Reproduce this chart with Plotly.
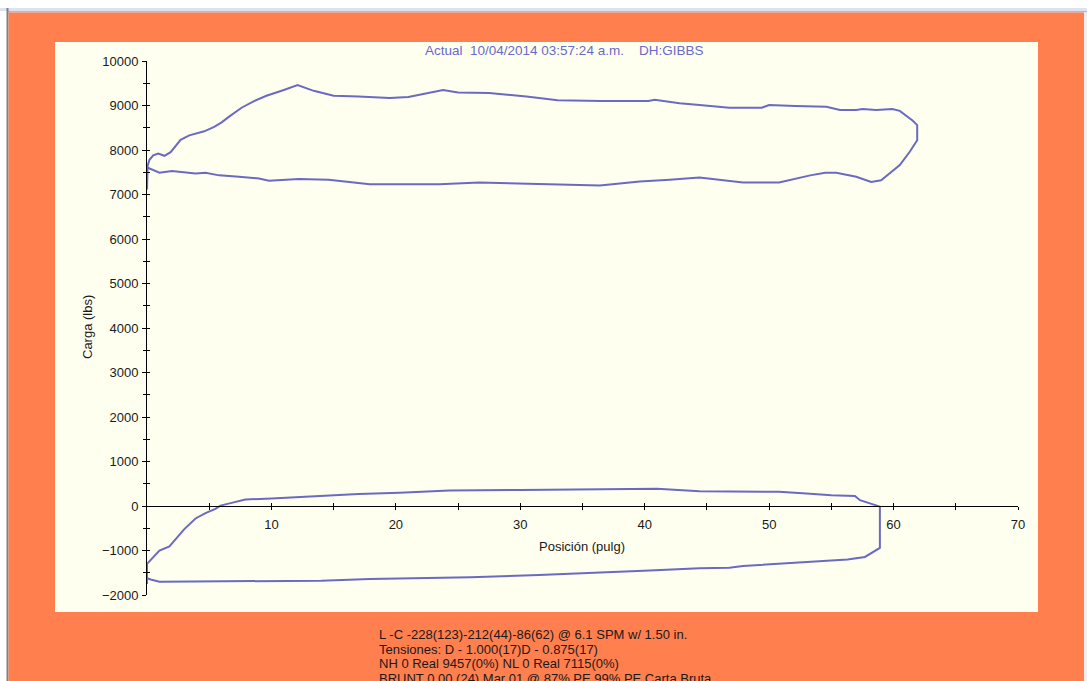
import plotly.graph_objects as go

# Surface dynamometer card (upper loop) and pump card (lower loop)
upper_pos = [0.0, 0.05, 0.2, 0.5, 0.9, 1.4, 1.9, 2.3, 2.7, 3.4, 4.6, 5.4, 6.0, 6.6, 7.6, 8.6,
             9.6, 11.0, 12.1, 13.4, 15.0, 17.0, 19.5, 21.0, 22.5, 23.8, 25.0, 27.5, 30.5,
             33.0, 36.5, 40.3, 40.8, 42.8, 44.4, 46.8, 49.4, 50.0, 52.1, 54.6, 55.7, 57.0,
             57.5, 58.6, 59.9, 60.5, 61.5, 61.9, 61.9, 61.3, 60.5, 59.7, 59.0, 58.2, 57.8,
             57.0, 55.4, 54.5, 53.3, 52.2, 50.8, 47.9, 44.4, 42.0, 39.6, 36.4, 33.5, 31.5,
             26.7, 23.5, 17.9, 14.6, 12.2, 9.8, 9.0, 7.4, 5.8, 4.7, 3.9, 2.0, 1.0, 0.15,
             0.0, 0.0]
upper_load = [7115, 7650, 7780, 7880, 7920, 7870, 7950, 8080, 8230, 8330, 8420, 8520, 8620,
              8750, 8950, 9100, 9220, 9350, 9457, 9330, 9220, 9200, 9170, 9190, 9280, 9350,
              9290, 9280, 9200, 9120, 9100, 9100, 9130, 9050, 9010, 8950, 8950, 9010, 8990,
              8970, 8900, 8900, 8920, 8900, 8920, 8880, 8670, 8560, 8220, 7960, 7660, 7470,
              7320, 7280, 7320, 7400, 7490, 7490, 7430, 7360, 7270, 7270, 7380, 7330, 7290,
              7200, 7220, 7240, 7270, 7230, 7230, 7330, 7350, 7310, 7360, 7400, 7430, 7490,
              7470, 7530, 7490, 7590, 7650, 7115]

lower_pos = [0.0, 0.7, 1.0, 1.8, 2.2, 3.0, 3.9, 4.7, 5.5, 5.9, 6.8, 7.9, 10.0, 13.8, 17.0,
             20.3, 24.3, 30.0, 38.0, 41.0, 44.4, 50.8, 53.0, 55.0, 56.9, 57.3, 58.6, 58.9,
             58.9, 58.3, 57.7, 56.3, 55.1, 53.8, 50.8, 47.9, 46.8, 44.4, 40.4, 36.4, 31.5,
             26.0, 17.9, 14.0, 1.0, 0.3, 0.0, 0.0, 0.0]
lower_load = [-1300, -1080, -1000, -910, -775, -520, -280, -160, -65, 10, 70, 145, 170, 230,
              270, 300, 350, 360, 380, 390, 330, 320, 280, 240, 225, 130, 15, -15, -940,
              -1050, -1145, -1200, -1220, -1240, -1290, -1350, -1390, -1400, -1450, -1500,
              -1550, -1600, -1640, -1680, -1700, -1650, -1620, -1750, -1300]

x_range = [0, 70]
y_range = [-2000, 10000]
x_major = [10, 20, 30, 40, 50, 60, 70]
x_minor = [5, 15, 25, 35, 45, 55, 65]

title_text = "Actual  10/04/2014 03:57:24 a.m.    DH:GIBBS"
x_title = "Posición (pulg)"
y_title = "Carga (lbs)"
footer_lines = [
    "L -C -228(123)-212(44)-86(62) @ 6.1 SPM w/ 1.50 in.",
    "Tensiones: D - 1.000(17)D - 0.875(17)",
    "NH 0 Real 9457(0%) NL 0 Real 7115(0%)",
    "BRUNT 0.00 (24) Mar 01 @ 87% PE 99% PE Carta Bruta",
]

W, H = 1087, 681
ML, MT, PW, PH = 147, 61, 871, 534
MR, MB = W - ML - PW, H - MT - PH

FONT = "Liberation Sans, Arial, sans-serif"
LINE_COLOR = "#6a6ac2"
ORANGE = "#ff7f4f"
CREAM = "#fffff0"


def px(x):
    return (x - ML) / PW


def py(y):
    return (MT + PH - y) / PH


def rect(x0, y0, x1, y1, color):
    return dict(type="rect", xref="paper", yref="paper", layer="below",
                x0=px(x0), x1=px(x1), y0=py(y1), y1=py(y0),
                fillcolor=color, line=dict(width=0))


fig = go.Figure()
fig.add_trace(go.Scatter(x=upper_pos, y=upper_load, mode="lines",
                         line=dict(color=LINE_COLOR, width=2), hoverinfo="skip"))
fig.add_trace(go.Scatter(x=lower_pos, y=lower_load, mode="lines",
                         line=dict(color=LINE_COLOR, width=2), hoverinfo="skip"))
# invisible trace so the companion axes (inner tick halves) are drawn
fig.add_trace(go.Scatter(x=[None], y=[None], xaxis="x2", yaxis="y2", showlegend=False))

zero_pos = (0 - y_range[0]) / (y_range[1] - y_range[0])
tick_font = dict(family=FONT, size=13, color="#1a1a1a")

fig.update_layout(
    width=W, height=H,
    margin=dict(l=ML, r=MR, t=MT, b=MB, pad=0),
    paper_bgcolor="white",
    plot_bgcolor="rgba(0,0,0,0)",
    showlegend=False,
    xaxis=dict(range=x_range, anchor="free", position=zero_pos, showgrid=False,
               zeroline=False, showline=True, linecolor="black", linewidth=1,
               tickmode="array", tickvals=x_major, ticks="outside", ticklen=3,
               tickcolor="black", tickfont=tick_font, ticklabelstandoff=3,
               minor=dict(tickmode="array", tickvals=x_minor, ticks="outside",
                          ticklen=3, tickcolor="black")),
    yaxis=dict(range=y_range, showgrid=False, zeroline=False, showline=True,
               linecolor="black", linewidth=1, dtick=1000, tick0=0, tickformat="d",
               ticks="outside", ticklen=4, tickcolor="black", tickfont=tick_font,
               ticklabelstandoff=1,
               minor=dict(dtick=500, ticks="outside", ticklen=3, tickcolor="black")),
    xaxis2=dict(range=x_range, overlaying="x", anchor="free", position=zero_pos,
                showgrid=False, zeroline=False, showline=False, showticklabels=False,
                tickmode="array", tickvals=x_minor + x_major, ticks="inside",
                ticklen=3, tickcolor="black"),
    yaxis2=dict(range=y_range, overlaying="y", anchor="x", showgrid=False,
                zeroline=False, showline=False, showticklabels=False, dtick=500,
                tick0=0, ticks="inside", ticklen=3, tickcolor="black"),
    shapes=[
        rect(0, 8, W, 11, "#dde1f0"),
        rect(8, 11, W, 12.5, "#b4b8c6"),
        rect(6.5, 8, 8.5, H, "#808080"),
        rect(8.5, 12.5, 1084, H, ORANGE),
        rect(1084, 12.5, W, H, "#eeeeee"),
        rect(55, 42, 1038, 612, CREAM),
    ],
)

annotations = [
    dict(text=title_text, x=px(564), y=py(50.5), font=dict(family=FONT, size=13.5, color="#6a6ac8")),
    dict(text=x_title, x=px(582), y=py(546), font=dict(family=FONT, size=13, color="#1a1a1a")),
    dict(text=y_title, x=px(87), y=py(327), textangle=-90,
         font=dict(family=FONT, size=13, color="#1a1a1a")),
]
for i, line in enumerate(footer_lines):
    annotations.append(dict(text=line, x=px(377), y=py(634.5 + 14.6 * i), xanchor="left",
                            font=dict(family=FONT, size=13, color="#1a1a1a")))
for a in annotations:
    a.update(xref="paper", yref="paper", showarrow=False)
    a.setdefault("xanchor", "center")
    a.setdefault("yanchor", "middle")
fig.update_layout(annotations=annotations)

fig.write_html("out.html")
